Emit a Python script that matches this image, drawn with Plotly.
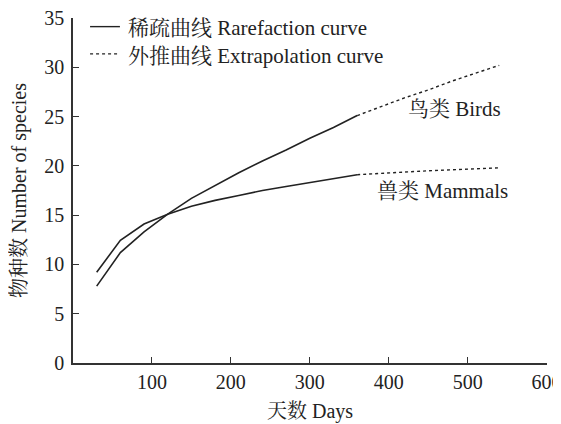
import plotly.graph_objects as go

# observed (rarefaction) part
days_obs = [30, 60, 90, 120, 150, 180, 210, 240, 270, 300, 330, 360]
birds_obs = [7.8, 11.2, 13.3, 15.1, 16.7, 18.0, 19.3, 20.5, 21.6, 22.8, 23.9, 25.1]
mammals_obs = [9.2, 12.45, 14.1, 15.1, 15.9, 16.5, 17.0, 17.5, 17.9, 18.3, 18.7, 19.1]

# extrapolated part
days_ext = [360, 390, 420, 450, 480, 510, 540]
birds_ext = [25.1, 26.0, 26.9, 27.7, 28.6, 29.4, 30.2]
mammals_ext = [19.1, 19.25, 19.4, 19.5, 19.6, 19.7, 19.8]

x_ticks = [100, 200, 300, 400, 500, 600]
y_ticks = [0, 5, 10, 15, 20, 25, 30, 35]

legend_names = ["稀疏曲线 Rarefaction curve", "外推曲线 Extrapolation curve"]

FONT = "Liberation Serif, Times New Roman, Noto Serif CJK SC, Noto Sans CJK SC, serif"
INK = "#222222"

fig = go.Figure()

fig.add_trace(go.Scatter(x=days_obs, y=birds_obs, mode="lines", name="Birds",
                         line=dict(color=INK, width=1.6)))
fig.add_trace(go.Scatter(x=days_obs, y=mammals_obs, mode="lines", name="Mammals",
                         line=dict(color=INK, width=1.6)))
fig.add_trace(go.Scatter(x=days_ext, y=birds_ext, mode="lines", name="Birds (extrap.)",
                         line=dict(color=INK, width=1.4, dash="dot")))
fig.add_trace(go.Scatter(x=days_ext, y=mammals_ext, mode="lines", name="Mammals (extrap.)",
                         line=dict(color=INK, width=1.4, dash="dot")))

# hand-made legend in the top-left corner
for i, (name, dash) in enumerate(zip(legend_names, ["solid", "dot"])):
    yy = 0.975 - i * 0.079
    fig.add_shape(type="line", xref="paper", yref="paper",
                  x0=0.036, x1=0.099, y0=yy, y1=yy,
                  line=dict(color=INK, width=1.4, dash=dash))
    fig.add_annotation(xref="paper", yref="paper", x=0.112, y=yy - 0.005,
                       xanchor="left", yanchor="middle", text=name, showarrow=False,
                       font=dict(size=21, color=INK, family=FONT))

fig.add_annotation(x=483, y=25.75, text="鸟类 Birds", showarrow=False,
                   font=dict(size=21, color=INK, family=FONT))
fig.add_annotation(x=468, y=17.4, text="兽类 Mammals", showarrow=False,
                   font=dict(size=21, color=INK, family=FONT))

fig.update_layout(
    width=553, height=416,
    margin=dict(l=65, r=14, t=10, b=61),
    paper_bgcolor="white", plot_bgcolor="white",
    font=dict(family=FONT, color=INK, size=20),
    showlegend=False,
)

fig.update_xaxes(
    range=[0, 600.5], tickvals=x_ticks, ticks="inside", ticklen=6,
    tickcolor="#333", showline=True, linecolor="#333", linewidth=1.5,
    showgrid=False, zeroline=False, tickfont=dict(size=20), automargin=False,
    ticklabeloverflow="allow",
    title=dict(text="天数 Days", font=dict(size=20), standoff=12),
)
fig.update_yaxes(
    range=[0, 35], tickvals=y_ticks, ticks="inside", ticklen=6,
    tickcolor="#333", showline=True, linecolor="#333", linewidth=1.5,
    showgrid=False, zeroline=False, tickfont=dict(size=20), automargin=False,
    ticklabelstandoff=3, ticklabeloverflow="allow",
    title=dict(text="物种数 Number of species", font=dict(size=20), standoff=15),
)

fig.write_html("out.html")
